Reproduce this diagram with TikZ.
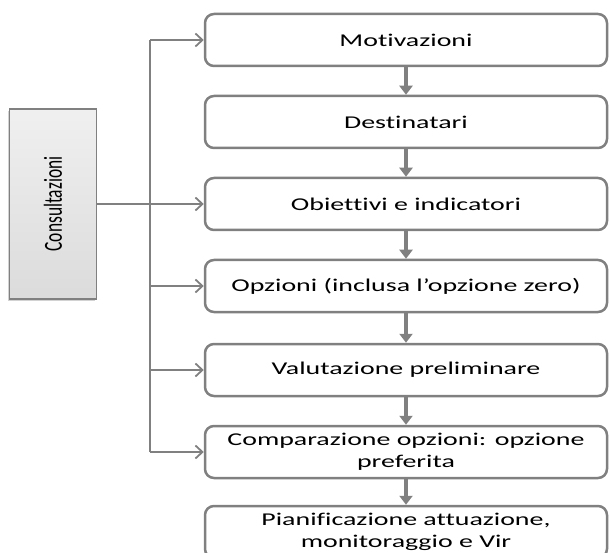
\documentclass[tikz,border=0pt]{standalone}
\usepackage{fontspec}
\setmainfont{Carlito}[FakeStretch=1.55, Ligatures=NoCommon]
\newfontfamily\narrowfont{Carlito}[FakeStretch=0.67]
\usetikzlibrary{arrows.meta,shadows}
\definecolor{linegray}{RGB}{128,128,128}
\begin{document}
\begin{tikzpicture}[x=1pt, y=-1pt,
    stepbox/.style={draw=linegray, line width=2.5pt, rounded corners=9pt,
        fill=white, minimum width=402pt, minimum height=52pt, align=center,
        font=\fontsize{18}{22}\selectfont},
    consbox/.style={draw=linegray, line width=1.5pt, rotate=90,
        top color=gray!12, bottom color=gray!28,
        minimum width=190pt, minimum height=87pt,
        font=\narrowfont\fontsize{26}{30}\selectfont},
    downarrow/.style={draw=linegray, line width=4pt,
        -{Triangle[length=9pt, width=13pt]}},
    busline/.style={draw=linegray, line width=2.5pt},
    busarrow/.style={busline, -{Straight Barb[length=7pt, width=13pt, line width=1.8pt]}}]
        \useasboundingbox (0, 0) rectangle (610, 553);
        \clip (0, 0) rectangle (610, 553);
        % boxes of the procedure
        \node[stepbox] (mot) at (406, 40) {Motivazioni};
        \node[stepbox] (dest) at (406, 122) {Destinatari};
        \node[stepbox] (obi) at (406, 204) {Obiettivi e indicatori};
        \node[stepbox] (opz) at (406, 286) {Opzioni (inclusa l’opzione zero)};
        \node[stepbox] (val) at (406, 370) {Valutazione preliminare};
        \node[stepbox] (comp) at (406, 452) {Comparazione opzioni: opzione\\preferita};
        \node[stepbox] (pian) at (406, 532) {Pianificazione attuazione,\\monitoraggio e Vir};
        % consultations
        \node[consbox, drop shadow={shadow xshift=-2pt, shadow yshift=-2pt, fill=gray!70}] (cons) at (53, 204) {Consultazioni};
        \coordinate (bus) at (150, 0);
        \foreach \a/\b in {mot/dest, dest/obi, obi/opz, opz/val, val/comp, comp/pian}
            \draw[downarrow] (\a.south) -- (\b.north);
        \draw[busline] (mot.west -| bus) -- (comp.west -| bus);
        \draw[busarrow] (cons.south) -- (obi.west);
        \foreach \b in {mot, opz, val, comp}
            \draw[busarrow] (\b.west -| bus) -- (\b.west);
\end{tikzpicture}
\end{document}
